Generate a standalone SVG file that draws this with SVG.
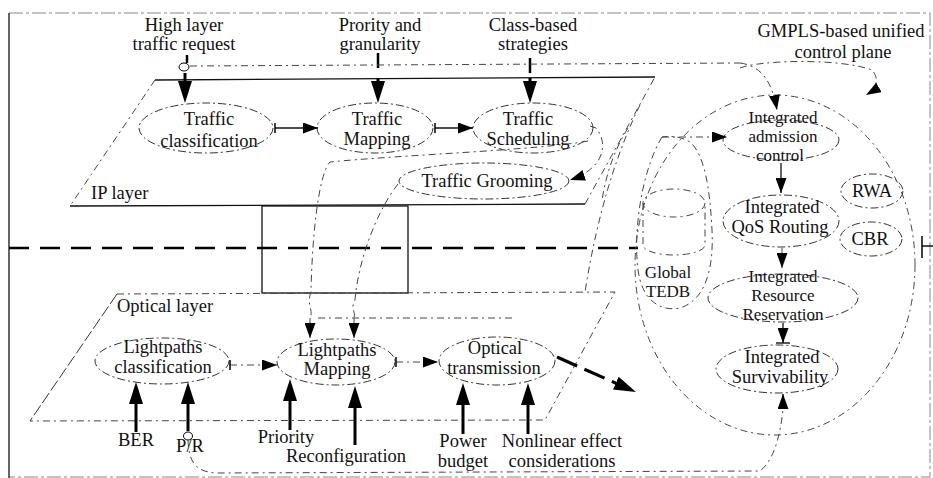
<svg xmlns="http://www.w3.org/2000/svg" width="933" height="478" viewBox="0 0 933 478">
<style>
.t{font-family:"Liberation Serif","Times New Roman",serif;font-size:18.5px;fill:#111;text-anchor:middle}
.t2{font-family:"Liberation Serif","Times New Roman",serif;font-size:17px;fill:#111;text-anchor:middle}
.tl{font-family:"Liberation Serif","Times New Roman",serif;font-size:18.5px;fill:#111}
.e{fill:none;stroke:#333;stroke-width:1;stroke-dasharray:8 3 2 3}
.d{fill:none;stroke:#444;stroke-width:1;stroke-dasharray:7 4 2 4}
.s{fill:none;stroke:#111;stroke-width:1.3}
.k{fill:none;stroke:#000;stroke-width:3}
.b{fill:none;stroke:#888;stroke-width:1;stroke-dasharray:14 3 3 3}
</style>
<defs>
<marker id="big" viewBox="0 0 22 14" refX="14" refY="7" markerWidth="22" markerHeight="14" markerUnits="userSpaceOnUse" orient="auto"><path d="M0,0 L22,7 L0,14 z" fill="#000"/></marker>
<marker id="mid" viewBox="0 0 15 11" refX="15" refY="5.5" markerWidth="15" markerHeight="11" markerUnits="userSpaceOnUse" orient="auto"><path d="M0,0 L15,5.5 L0,11 z" fill="#000"/></marker>
<marker id="bar" viewBox="0 0 2 10" refX="1" refY="5" markerWidth="2" markerHeight="10" markerUnits="userSpaceOnUse" orient="auto"><path d="M1,0 L1,10" stroke="#000" stroke-width="1.5"/></marker>
</defs>

<!-- frame -->
<g id="frame">
<path class="b" d="M9,13 L930,13 L930,477 L9,477"/>
<path d="M9,13 L9,478" stroke="#111" stroke-width="1.3" fill="none"/>
<path d="M922,236 L922,258 M922,246 L933,246" stroke="#111" stroke-width="1.6" fill="none"/>
<path d="M9,248 L638,248" stroke="#000" stroke-width="2.6" stroke-dasharray="20 11" fill="none"/>
</g>

<!-- layers -->
<g id="ip-layer">
<path d="M155,80 L655,77" class="s"/>
<path d="M155,80 L70,206" class="d"/>
<path d="M70,206 L585,204" class="s"/>
<path d="M585,204 L655,77" class="d"/>
<text class="tl" x="91" y="199">IP layer</text>
</g>
<g id="middle-box">
<rect x="262" y="206" width="146" height="87" class="s"/>
</g>
<g id="optical-layer">
<path d="M117,294 L615,292 L545,420 L30,421" class="d"/>
<path d="M117,294 L30,421" fill="none" stroke="#333" stroke-width="1" stroke-dasharray="12 3"/>
<text class="tl" x="117" y="312">Optical layer</text>
</g>

<!-- top labels -->
<g id="high-layer">
<text class="t" x="184" y="31">High layer</text>
<text class="t" x="184" y="50">traffic request</text>
</g>
<g id="priority-granularity">
<text class="t" x="380" y="31">Prority and</text>
<text class="t" x="380" y="50">granularity</text>
</g>
<g id="class-based">
<text class="t" x="533" y="31">Class-based</text>
<text class="t" x="533" y="50">strategies</text>
</g>
<g id="gmpls">
<text class="t" x="841" y="37">GMPLS-based unified</text>
<text class="t" x="843" y="58">control plane</text>
</g>

<!-- IP layer nodes -->
<g id="traffic-classification">
<ellipse cx="206" cy="128" rx="67" ry="25" class="e"/>
<text class="t" x="209" y="125">Traffic</text>
<text class="t" x="209" y="147">classification</text>
</g>
<g id="traffic-mapping">
<ellipse cx="375" cy="128" rx="58" ry="25" class="e"/>
<text class="t" x="377" y="125">Traffic</text>
<text class="t" x="377" y="145">Mapping</text>
</g>
<g id="traffic-scheduling">
<ellipse cx="533" cy="128" rx="60" ry="25" class="e"/>
<text class="t" x="528" y="125">Traffic</text>
<text class="t" x="528" y="145">Scheduling</text>
</g>
<g id="traffic-grooming">
<ellipse cx="484" cy="181" rx="85" ry="18" class="e"/>
<text class="t" x="487" y="187">Traffic Grooming</text>
</g>

<!-- optical layer nodes -->
<g id="lightpaths-classification">
<ellipse cx="162" cy="361" rx="67" ry="23" class="e"/>
<text class="t" x="163" y="353">Lightpaths</text>
<text class="t" x="163" y="373">classification</text>
</g>
<g id="lightpaths-mapping">
<ellipse cx="336" cy="362" rx="59" ry="23" class="e"/>
<text class="t" x="337" y="356">Lightpaths</text>
<text class="t" x="337" y="375">Mapping</text>
</g>
<g id="optical-transmission">
<ellipse cx="497" cy="361" rx="58" ry="24" class="e"/>
<text class="t" x="495" y="354">Optical</text>
<text class="t" x="494" y="374">transmission</text>
</g>

<!-- bottom labels -->
<g id="ber"><text class="t" x="136" y="446">BER</text></g>
<g id="pr"><text class="t" x="190" y="452">P/R</text></g>
<g id="priority"><text class="t" x="286" y="443">Priority</text></g>
<g id="reconfiguration"><text class="t" x="346" y="462">Reconfiguration</text></g>
<g id="power-budget">
<text class="t" x="463" y="447">Power</text>
<text class="t" x="463" y="467">budget</text>
</g>
<g id="nonlinear">
<text class="t" x="562" y="447">Nonlinear effect</text>
<text class="t" x="562" y="467">considerations</text>
</g>

<!-- control plane -->
<g id="control-plane">
<ellipse cx="775" cy="265" rx="140" ry="170" class="d"/>
</g>
<g id="global-tedb">
<path class="d" d="M662,137 C642,170 633,230 638,270 C642,300 660,312 680,308 C705,300 714,270 712,230 C710,190 705,155 690,142 C680,136 670,136 662,137 Z"/>
<ellipse cx="674" cy="203" rx="31" ry="14" class="d"/>
<path class="d" d="M643,203 L643,245 A31 10 0 0 0 705,245 L705,203"/>
<text class="t2" x="668" y="278">Global</text>
<text class="t2" x="668" y="297">TEDB</text>
</g>
<g id="admission-control">
<ellipse cx="781" cy="140" rx="58" ry="20" class="e"/>
<text class="t2" x="783" y="123">Integrated</text>
<text class="t2" x="783" y="142">admission</text>
<text class="t2" x="780" y="161">control</text>
</g>
<g id="qos-routing">
<ellipse cx="781" cy="221" rx="58" ry="26" class="e"/>
<text class="t" x="782" y="213">Integrated</text>
<text class="t" x="780" y="233">QoS Routing</text>
</g>
<g id="resource-reservation">
<ellipse cx="783" cy="298" rx="75" ry="24" class="e"/>
<text class="t2" x="783" y="282">Integrated</text>
<text class="t2" x="783" y="301">Resource</text>
<text class="t2" x="783" y="320">Reservation</text>
</g>
<g id="survivability">
<ellipse cx="777" cy="369" rx="61" ry="24" class="e"/>
<text class="t" x="782" y="363">Integrated</text>
<text class="t" x="780" y="383">Survivability</text>
</g>
<g id="rwa">
<ellipse cx="872" cy="191" rx="31" ry="17" class="e"/>
<text class="t" x="872" y="197">RWA</text>
</g>
<g id="cbr">
<ellipse cx="871" cy="239" rx="31" ry="17" class="e"/>
<text class="t" x="870" y="245">CBR</text>
</g>

<!-- connectors -->
<g id="connectors">
<path d="M187,55 L187,63" stroke="#000" stroke-width="2.5"/>
<ellipse cx="184" cy="67" rx="5" ry="4" fill="#fff" stroke="#000" stroke-width="1"/>
<path d="M378,53 L378,68 M530,58 L530,73" stroke="#000" stroke-width="2.5"/>
<path class="d" d="M190,66 L740,63"/>
<path class="k" d="M185,73 L185,95" marker-end="url(#big)"/>
<path class="k" d="M378,78 L378,95" marker-end="url(#big)"/>
<path class="k" d="M530,78 L530,95" marker-end="url(#big)"/>
<path class="d" d="M740,63 C762,66 772,82 777,110" marker-end="url(#mid)"/>
<path class="d" d="M740,68 C760,60 840,58 872,70 C879,78 878,88 866,95" marker-end="url(#mid)"/>
<path class="s" d="M275,128 L318,128" marker-start="url(#bar)" marker-end="url(#mid)"/>
<path class="s" d="M435,128 L473,128" marker-start="url(#bar)" marker-end="url(#mid)"/>
<path class="d" d="M590,126 L596,128 C608,142 606,168 570,180" marker-end="url(#mid)"/>
<path class="d" d="M588,141 C540,150 400,155 330,162 C318,175 312,240 311,292 C306,305 314,310 310,318"/>
<path class="d" d="M310,318 L310,338" marker-end="url(#mid)"/>
<path class="d" d="M398,184 C376,212 358,262 355,300 C350,308 356,312 354,318"/>
<path class="d" d="M354,318 L354,338" marker-end="url(#mid)"/>
<path class="d" d="M318,318 L515,318"/>
<path class="d" d="M640,105 C618,150 598,210 585,292"/>
<path class="d" d="M628,128 C614,150 606,175 602,200"/>
<path class="d" d="M662,137 L727,137" marker-end="url(#mid)"/>
<path class="d" d="M230,365 L277,365" marker-start="url(#bar)" marker-end="url(#mid)"/>
<path class="d" d="M396,362 L438,362" marker-start="url(#bar)" marker-end="url(#mid)"/>
<path d="M557,357 L628.6,388.8" stroke="#000" stroke-width="3.2" stroke-dasharray="22 8" fill="none" marker-end="url(#big)"/>
<path class="k" d="M136,432 L136,390" marker-end="url(#big)"/>
<path class="k" d="M188,431 L188,390" marker-end="url(#big)"/>
<ellipse cx="188" cy="436" rx="4.5" ry="4" fill="#fff" stroke="#000" stroke-width="1"/>
<path class="k" d="M290,430 L290,387" marker-end="url(#big)"/>
<path class="k" d="M355,445 L355,394" marker-end="url(#big)"/>
<path class="k" d="M463,434 L463,391" marker-end="url(#big)"/>
<path class="k" d="M528,434 L528,391" marker-end="url(#big)"/>
<path class="d" d="M188,440 C189,462 195,472 217,473 L760,471 C772,462 780,440 783,409"/>
<path class="s" d="M783,409 L783,394" marker-end="url(#mid)"/>
<path class="s" d="M781,163 L781,193" marker-end="url(#mid)"/>
<path class="d" d="M782,248 L782,268" marker-end="url(#mid)"/>
<path class="s" d="M783,323 L783,343" marker-end="url(#mid)"/>
<path d="M776,343 L790,343" stroke="#000" stroke-width="1.3"/>
</g>
</svg>
